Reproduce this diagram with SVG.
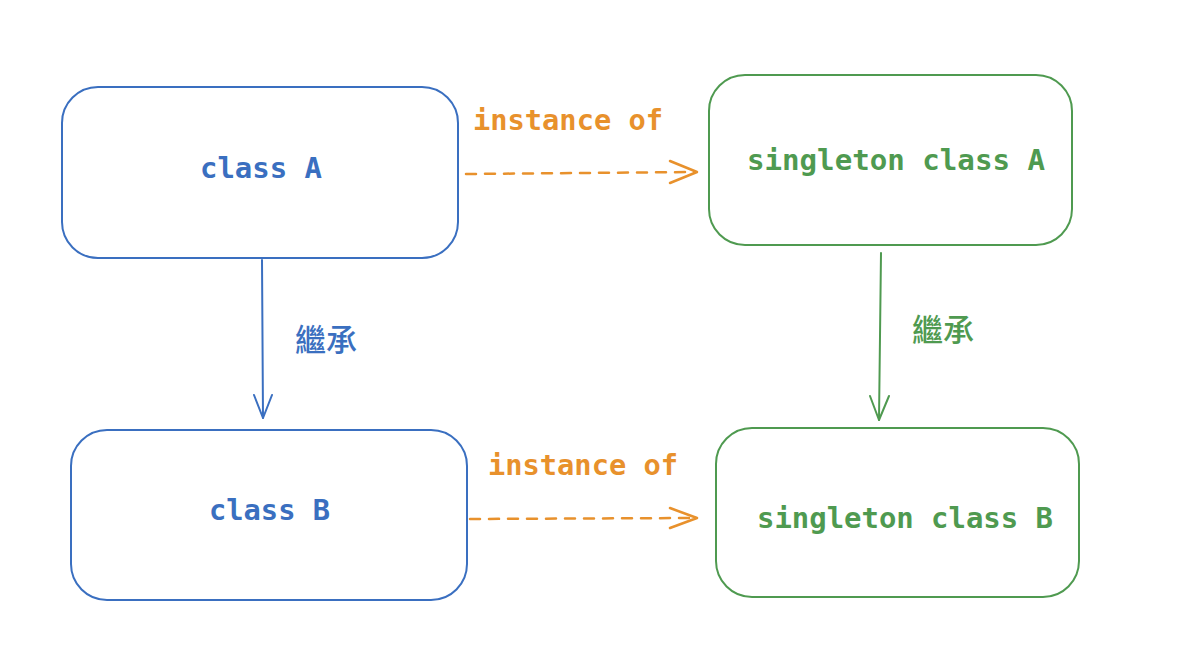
<svg xmlns="http://www.w3.org/2000/svg" width="1196" height="670" viewBox="0 0 1196 670">
<style>
.box{fill:none;stroke-width:2;}
.blue{stroke:#3a6fc0;}
.green{stroke:#4f9a50;}
.t{font-family:"DejaVu Sans Mono","Liberation Mono",monospace;font-size:28px;font-weight:bold;}
.tb{fill:#3a6fc0;}
.tg{fill:#4f9a50;}
.to{fill:#e8912c;}
.cjk{font-family:"Noto Sans CJK TC","Noto Sans CJK SC",sans-serif;font-size:31px;font-weight:500;}
.ln{fill:none;stroke-width:2;stroke-linecap:round;stroke-linejoin:round;}
.dash{fill:none;stroke:#e8912c;stroke-width:2.5;stroke-dasharray:10 9;stroke-linecap:round;}
.head{fill:none;stroke:#e8912c;stroke-width:2.5;stroke-linecap:round;stroke-linejoin:round;}
</style>
<rect width="1196" height="670" fill="#ffffff"/>
<g id="classA">
<rect class="box blue" x="62" y="87" width="396" height="171" rx="36"/>
<text class="t tb" x="200" y="178" textLength="122" lengthAdjust="spacingAndGlyphs">class A</text>
</g>
<g id="singletonA">
<rect class="box green" x="709" y="75" width="363" height="170" rx="36"/>
<text class="t tg" x="747" y="170" textLength="298" lengthAdjust="spacingAndGlyphs">singleton class A</text>
</g>
<g id="classB">
<rect class="box blue" x="71" y="430" width="396" height="170" rx="36"/>
<text class="t tb" x="209" y="520" textLength="121" lengthAdjust="spacingAndGlyphs">class B</text>
</g>
<g id="singletonB">
<rect class="box green" x="716" y="428" width="363" height="169" rx="36"/>
<text class="t tg" x="757" y="528" textLength="296" lengthAdjust="spacingAndGlyphs">singleton class B</text>
</g>
<g id="connectors">
<path class="ln blue" d="M262 260 L263 418"/>
<path class="ln blue" d="M254 395 L263 418 L272 395"/>
<text class="cjk tb" x="295" y="351">繼承</text>
<path class="ln green" d="M881 253 L879 420"/>
<path class="ln green" d="M870 396 L879 420 L889 396"/>
<text class="cjk tg" x="912" y="341">繼承</text>
<path class="dash" d="M466 174 L694 172"/>
<path class="head" d="M670 161 L697 172 L670 183"/>
<text class="t to" x="473" y="130" textLength="190" lengthAdjust="spacingAndGlyphs">instance of</text>
<path class="dash" d="M470 519 L694 518"/>
<path class="head" d="M670 508 L697 518 L670 528"/>
<text class="t to" x="488" y="475" textLength="190" lengthAdjust="spacingAndGlyphs">instance of</text>
</g>
</svg>
